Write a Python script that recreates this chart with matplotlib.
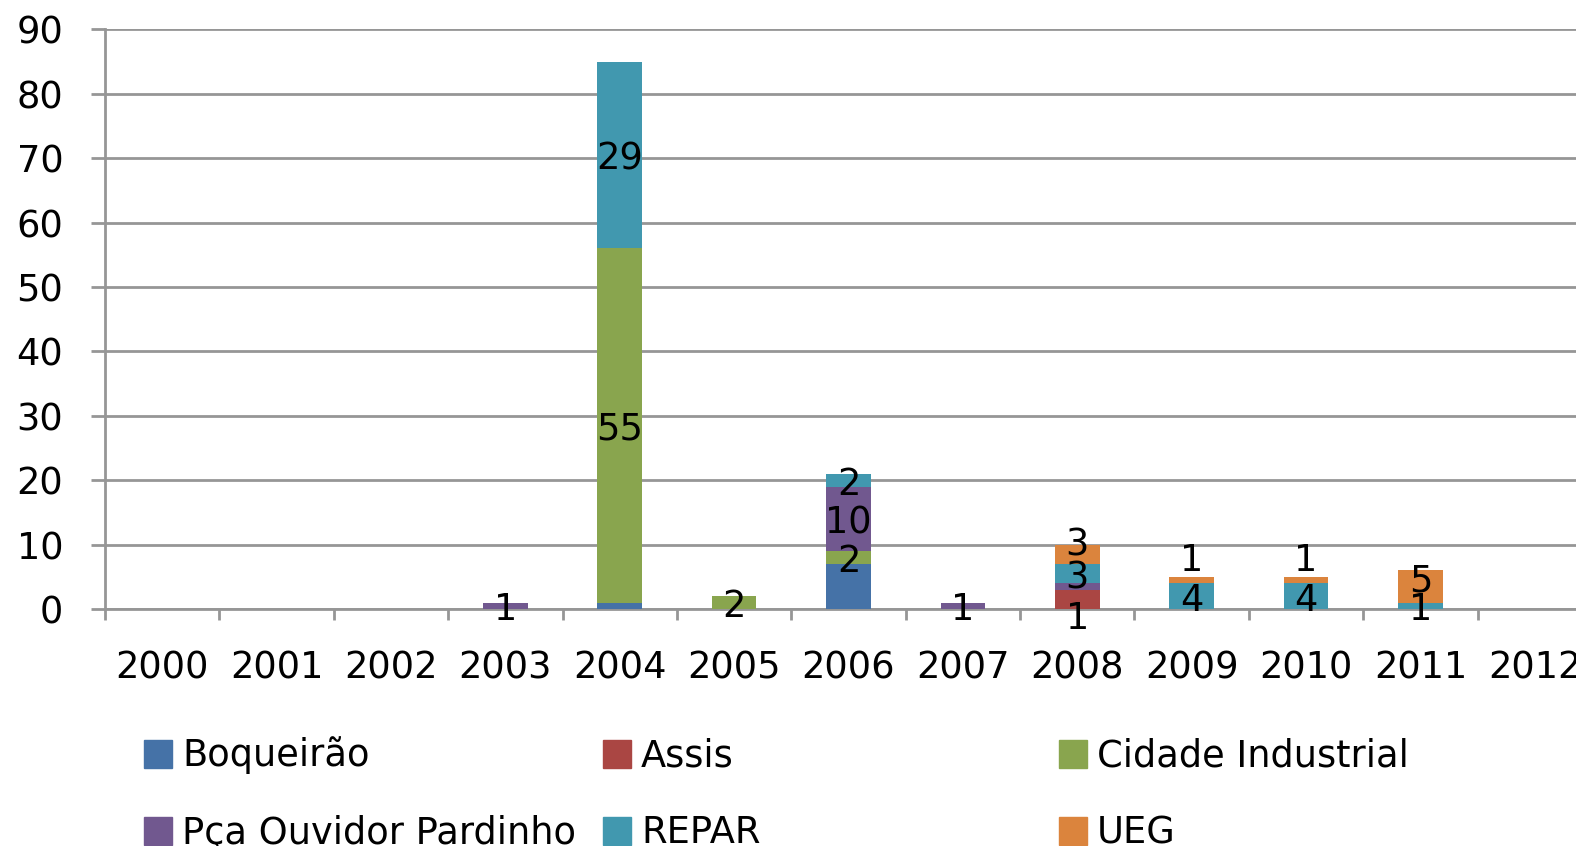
import matplotlib.pyplot as plt
from matplotlib.patches import Rectangle
import numpy as np

plt.rcParams['font.family'] = ['DejaVu Sans']

years = ['2000', '2001', '2002', '2003', '2004', '2005', '2006',
         '2007', '2008', '2009', '2010', '2011', '2012']
stations = ['Boqueirão', 'Assis', 'Cidade Industrial',
            'Pça Ouvidor Pardinho', 'REPAR', 'UEG']
colors = ['#4572A7', '#AA4643', '#89A54E', '#71588F', '#4198AF', '#DB843D']

boqueirao = [0, 0, 0, 0, 1, 0, 7, 0, 0, 0, 0, 0, 0]
assis = [0, 0, 0, 0, 0, 0, 0, 0, 3, 0, 0, 0, 0]
cidade_industrial = [0, 0, 0, 0, 55, 2, 2, 0, 0, 0, 0, 0, 0]
pca_ouvidor = [0, 0, 0, 1, 0, 0, 10, 1, 1, 0, 0, 0, 0]
repar = [0, 0, 0, 0, 29, 0, 2, 0, 3, 4, 4, 1, 0]
ueg = [0, 0, 0, 0, 0, 0, 0, 0, 3, 1, 1, 5, 0]
series = [boqueirao, assis, cidade_industrial, pca_ouvidor, repar, ueg]

# series whose labels are shown in the original, plus small nudges (data units)
labelled = [False, False, True, True, True, True]
label_shift = {(3, 8): -4.4, (5, 8): 2.0, (5, 9): 3.6, (5, 10): 3.6, (5, 11): 1.4}

FS = 26.5
W, H = 1576, 846
fig = plt.figure(figsize=(W / 100, H / 100), dpi=100)
ax = fig.add_axes([105 / W, 1 - 609 / H, (1592 - 105) / W, (609 - 29.3) / H])

x = np.arange(len(years))
bottom = np.zeros(len(years))
for i, vals in enumerate(series):
    vals = np.array(vals, dtype=float)
    ax.bar(x, vals, 0.39, bottom=bottom, color=colors[i], zorder=3)
    if labelled[i]:
        for j, v in enumerate(vals):
            if v > 0:
                y = bottom[j] + v / 2 + label_shift.get((i, j), 0)
                ax.text(x[j], y, f'{int(v)}', ha='center', va='center_baseline',
                        fontsize=FS, zorder=5)
    bottom += vals

grid_c = '#969696'
ax.set_xlim(-0.5, len(years) - 0.5)
ax.set_ylim(0, 90)
ax.set_yticks(range(0, 91, 10))
ax.yaxis.grid(True, color=grid_c, linewidth=2, zorder=0)
ax.set_xticks(x)
ax.set_xticklabels(years)
ax.set_xticks(np.arange(-0.5, len(years)), minor=True)
ax.tick_params(axis='x', which='major', length=0, pad=29, labelsize=FS)
ax.tick_params(axis='x', which='minor', length=8, width=2, color=grid_c)
ax.tick_params(axis='y', length=10, width=2, color=grid_c, pad=20, labelsize=FS)
for s in ['top', 'right']:
    ax.spines[s].set_visible(False)
for s in ['left', 'bottom']:
    ax.spines[s].set_color(grid_c)
    ax.spines[s].set_linewidth(2)

# legend laid out like the original, three columns on two rows
col_x = [144, 603, 1059]
row_base = [766, 843]
for k, name in enumerate(stations):
    cx = col_x[k % 3]
    by = row_base[k // 3]
    fig.patches.append(Rectangle((cx / W, 1 - (by + 2) / H), 28 / W, 28 / H,
                                 transform=fig.transFigure, color=colors[k]))
    fig.text((cx + 38) / W, 1 - by / H, name, fontsize=FS, va='baseline')

fig.savefig('out.png', dpi=100)
